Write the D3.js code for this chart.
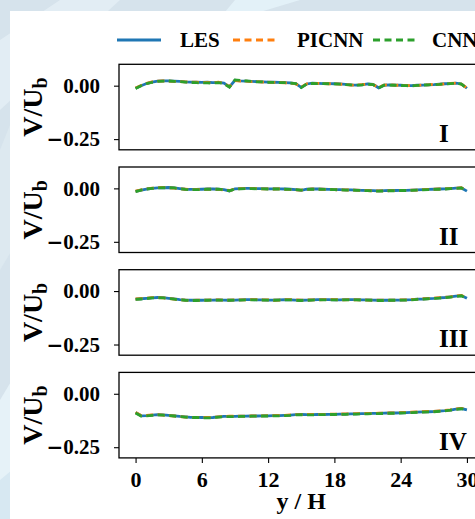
<!DOCTYPE html>
<html>
<head>
<meta charset="utf-8">
<script src="https://cdnjs.cloudflare.com/ajax/libs/d3/7.8.5/d3.min.js"></script>
<style>
  body { margin: 0; padding: 0; overflow: hidden; background: #d6e3ec; }
  svg { display: block; }
</style>
</head>
<body>
<script>
// sample positions y/H
var positions = [
  0, 0.5, 1, 1.5, 2, 2.5, 3, 3.5, 4, 4.5,
  5, 5.5, 6, 6.5, 7, 7.5, 8, 8.5, 9, 9.5,
  10, 10.5, 11, 11.5, 12, 12.5, 13, 13.5, 14, 14.5,
  15, 15.5, 16, 16.5, 17, 17.5, 18, 18.5, 19, 19.5,
  20, 20.5, 21, 21.5, 22, 22.5, 23, 23.5, 24, 24.5,
  25, 25.5, 26, 26.5, 27, 27.5, 28, 28.5, 29, 29.5,
  30
];

var seriesNames = ["LES", "PICNN", "CNN"];
var panelNames = ["I", "II", "III", "IV"];
var xTicks = [0, 6, 12, 18, 24, 30];
var yTicks = [0, -0.25];

// panel I
var les1 = [
  -0.012, 0.000, 0.010, 0.017, 0.021, 0.022, 0.022, 0.021, 0.020, 0.018,
  0.017, 0.016, 0.015, 0.016, 0.014, 0.015, 0.012, -0.006, 0.025, 0.022,
  0.021, 0.020, 0.019, 0.018, 0.017, 0.016, 0.015, 0.014, 0.013, 0.010,
  -0.008, 0.008, 0.012, 0.011, 0.010, 0.010, 0.009, 0.008, 0.006, 0.004,
  0.003, 0.004, 0.008, 0.006, -0.010, 0.002, 0.004, 0.003, 0.002, 0.000,
  0.000, 0.002, 0.003, 0.004, 0.005, 0.007, 0.009, 0.010, 0.012, 0.008,
  -0.012
];
var picnn1 = [
  -0.011, 0.001, 0.011, 0.018, 0.021, 0.022, 0.021, 0.020, 0.019, 0.018,
  0.016, 0.016, 0.014, 0.015, 0.013, 0.016, 0.011, -0.005, 0.024, 0.021,
  0.021, 0.019, 0.019, 0.017, 0.017, 0.015, 0.015, 0.013, 0.013, 0.009,
  -0.007, 0.009, 0.011, 0.011, 0.010, 0.009, 0.009, 0.007, 0.006, 0.003,
  0.003, 0.005, 0.007, 0.005, -0.009, 0.003, 0.004, 0.002, 0.002, 0.001,
  0.000, 0.001, 0.003, 0.004, 0.006, 0.006, 0.009, 0.011, 0.012, 0.007,
  -0.011
];
var cnn1 = [
  -0.013, 0.000, 0.010, 0.016, 0.020, 0.021, 0.022, 0.020, 0.019, 0.017,
  0.015, 0.014, 0.013, 0.013, 0.012, 0.014, 0.010, -0.007, 0.027, 0.024,
  0.022, 0.020, 0.018, 0.018, 0.016, 0.015, 0.014, 0.014, 0.012, 0.010,
  -0.009, 0.008, 0.011, 0.010, 0.010, 0.009, 0.008, 0.007, 0.005, 0.004,
  0.002, 0.004, 0.007, 0.005, -0.011, 0.002, 0.003, 0.002, 0.001, 0.000,
  -0.001, 0.001, 0.003, 0.004, 0.005, 0.006, 0.008, 0.010, 0.011, 0.007,
  -0.013
];

// panel II
var les2 = [
  -0.014, -0.008, -0.003, 0.000, 0.002, 0.003, 0.004, 0.002, -0.001, -0.004,
  -0.005, -0.005, -0.004, -0.003, -0.003, -0.004, -0.006, -0.012, -0.002, -0.001,
  0.000, 0.000, -0.001, -0.001, -0.002, -0.002, -0.002, -0.003, -0.004, -0.006,
  -0.009, -0.004, -0.003, -0.003, -0.004, -0.005, -0.006, -0.006, -0.007, -0.007,
  -0.008, -0.009, -0.010, -0.011, -0.012, -0.011, -0.010, -0.010, -0.009, -0.009,
  -0.008, -0.007, -0.006, -0.005, -0.004, -0.003, -0.002, -0.001, 0.001, 0.002,
  -0.013
];
var picnn2 = [
  -0.013, -0.007, -0.002, 0.001, 0.003, 0.004, 0.003, 0.001, -0.002, -0.004,
  -0.006, -0.005, -0.005, -0.004, -0.003, -0.005, -0.007, -0.010, -0.003, -0.001,
  -0.001, 0.000, -0.001, -0.002, -0.002, -0.003, -0.002, -0.004, -0.005, -0.007,
  -0.008, -0.005, -0.003, -0.004, -0.004, -0.006, -0.006, -0.007, -0.007, -0.008,
  -0.008, -0.010, -0.010, -0.012, -0.012, -0.012, -0.011, -0.010, -0.010, -0.009,
  -0.008, -0.008, -0.006, -0.005, -0.004, -0.003, -0.002, 0.000, 0.001, 0.003,
  -0.012
];
var cnn2 = [
  -0.015, -0.008, -0.003, 0.000, 0.002, 0.003, 0.003, 0.002, -0.002, -0.005,
  -0.006, -0.006, -0.005, -0.004, -0.004, -0.004, -0.007, -0.011, -0.003, -0.002,
  -0.001, -0.001, -0.002, -0.002, -0.003, -0.003, -0.003, -0.004, -0.005, -0.006,
  -0.008, -0.005, -0.004, -0.004, -0.005, -0.005, -0.006, -0.007, -0.008, -0.008,
  -0.009, -0.010, -0.011, -0.012, -0.013, -0.012, -0.011, -0.011, -0.010, -0.010,
  -0.009, -0.008, -0.007, -0.006, -0.005, -0.004, -0.003, -0.001, 0.000, 0.002,
  -0.014
];

// panel III
var les3 = [
  -0.038, -0.036, -0.034, -0.032, -0.030, -0.031, -0.034, -0.037, -0.040, -0.042,
  -0.043, -0.043, -0.043, -0.042, -0.042, -0.041, -0.042, -0.043, -0.042, -0.041,
  -0.040, -0.040, -0.041, -0.041, -0.042, -0.042, -0.041, -0.040, -0.041, -0.042,
  -0.043, -0.042, -0.041, -0.040, -0.040, -0.040, -0.041, -0.041, -0.040, -0.040,
  -0.040, -0.041, -0.041, -0.042, -0.043, -0.043, -0.043, -0.042, -0.042, -0.041,
  -0.040, -0.038, -0.037, -0.035, -0.034, -0.032, -0.030, -0.027, -0.024, -0.021,
  -0.034
];
var picnn3 = [
  -0.037, -0.035, -0.033, -0.031, -0.030, -0.032, -0.035, -0.038, -0.041, -0.042,
  -0.044, -0.043, -0.042, -0.042, -0.041, -0.041, -0.043, -0.042, -0.041, -0.041,
  -0.041, -0.040, -0.040, -0.041, -0.041, -0.043, -0.042, -0.040, -0.040, -0.041,
  -0.042, -0.042, -0.041, -0.041, -0.040, -0.039, -0.040, -0.041, -0.041, -0.040,
  -0.041, -0.041, -0.042, -0.042, -0.042, -0.043, -0.042, -0.042, -0.041, -0.041,
  -0.039, -0.038, -0.036, -0.035, -0.033, -0.031, -0.029, -0.027, -0.023, -0.020,
  -0.033
];
var cnn3 = [
  -0.039, -0.037, -0.035, -0.032, -0.031, -0.032, -0.034, -0.038, -0.041, -0.043,
  -0.044, -0.044, -0.043, -0.043, -0.042, -0.042, -0.043, -0.043, -0.042, -0.042,
  -0.041, -0.041, -0.041, -0.042, -0.042, -0.043, -0.042, -0.041, -0.041, -0.043,
  -0.044, -0.043, -0.042, -0.041, -0.041, -0.041, -0.041, -0.042, -0.041, -0.041,
  -0.041, -0.042, -0.042, -0.043, -0.044, -0.044, -0.043, -0.043, -0.042, -0.042,
  -0.041, -0.039, -0.038, -0.036, -0.034, -0.033, -0.031, -0.028, -0.025, -0.022,
  -0.035
];

// panel IV
var les4 = [
  -0.088, -0.103, -0.102, -0.100, -0.098, -0.099, -0.101, -0.103, -0.106, -0.108,
  -0.110, -0.110, -0.111, -0.112, -0.111, -0.108, -0.106, -0.106, -0.106, -0.105,
  -0.105, -0.104, -0.104, -0.103, -0.103, -0.102, -0.102, -0.101, -0.100, -0.098,
  -0.097, -0.098, -0.098, -0.097, -0.097, -0.096, -0.096, -0.095, -0.095, -0.094,
  -0.094, -0.093, -0.093, -0.092, -0.092, -0.091, -0.090, -0.090, -0.089, -0.088,
  -0.087, -0.086, -0.085, -0.084, -0.083, -0.081, -0.079, -0.076, -0.072, -0.069,
  -0.075
];
var picnn4 = [
  -0.087, -0.102, -0.101, -0.099, -0.098, -0.100, -0.102, -0.104, -0.106, -0.109,
  -0.110, -0.111, -0.111, -0.111, -0.110, -0.108, -0.107, -0.105, -0.105, -0.105,
  -0.104, -0.104, -0.103, -0.103, -0.102, -0.102, -0.101, -0.101, -0.099, -0.098,
  -0.098, -0.097, -0.097, -0.097, -0.096, -0.096, -0.095, -0.095, -0.094, -0.094,
  -0.093, -0.093, -0.092, -0.092, -0.091, -0.090, -0.090, -0.089, -0.088, -0.087,
  -0.086, -0.085, -0.084, -0.083, -0.082, -0.080, -0.078, -0.075, -0.071, -0.068,
  -0.074
];
var cnn4 = [
  -0.090, -0.104, -0.103, -0.101, -0.099, -0.100, -0.102, -0.104, -0.107, -0.109,
  -0.111, -0.111, -0.112, -0.113, -0.112, -0.109, -0.107, -0.107, -0.107, -0.106,
  -0.106, -0.105, -0.105, -0.104, -0.104, -0.103, -0.103, -0.102, -0.101, -0.099,
  -0.098, -0.099, -0.099, -0.098, -0.098, -0.097, -0.097, -0.096, -0.096, -0.095,
  -0.095, -0.094, -0.094, -0.093, -0.093, -0.092, -0.091, -0.091, -0.090, -0.089,
  -0.088, -0.087, -0.086, -0.085, -0.084, -0.082, -0.080, -0.077, -0.073, -0.070,
  -0.076
];

var panels = [
  [les1, picnn1, cnn1],
  [les2, picnn2, cnn2],
  [les3, picnn3, cnn3],
  [les4, picnn4, cnn4]
];

var colors = ["#1f77b4", "#ff7f0e", "#2ca02c"];
var dashes = [null, "7,4.5", "7,4.5"];

var W = 475, H = 519;
var font = "'Liberation Serif', 'Times New Roman', serif";

var svg = d3.select("body").append("svg")
  .attr("width", W)
  .attr("height", H);

// backdrop (page behind the figure)
svg.append("rect").attr("width", W).attr("height", H).attr("fill", "#d6e3ec");
svg.append("path").attr("d", "M0,40 L60,0 L120,0 L0,110 Z").attr("fill", "#e2edf4");
svg.append("path").attr("d", "M235,0 L300,0 L260,12 L225,12 Z").attr("fill", "#e3f1f8");
svg.append("path").attr("d", "M0,150 L12,120 L12,250 L0,270 Z").attr("fill", "#dde9f0");
svg.append("path").attr("d", "M0,400 L12,380 L12,519 L0,519 Z").attr("fill", "#e6f2f8");
svg.append("path").attr("d", "M0,480 L12,470 L12,519 L0,519 Z").attr("fill", "#d7e8f2");

// white figure area
svg.append("rect")
  .attr("x", 10).attr("y", 11)
  .attr("width", W - 10).attr("height", H - 11)
  .attr("fill", "#ffffff");

var left = 119, right = 483.5;
var panelTop0 = 64.3, panelH = 85.5, panelStep = 102.7;

var x = d3.scaleLinear().domain([-1.5, 31.5]).range([left, right]);

// wide minus like the original figure
function wideMinus(sel) {
  sel.each(function() {
    var t = d3.select(this);
    var s = t.text();
    if (s.charAt(0) === "\u2212") {
      t.text("");
      t.append("tspan")
        .attr("font-family", "'DejaVu Sans', sans-serif")
        .attr("font-size", 20)
        .text("\u2212");
      t.append("tspan").text(s.slice(1));
    }
  });
}

panels.forEach(function(series, p) {
  var top = panelTop0 + p * panelStep;
  var y = d3.scaleLinear().domain([-0.3, 0.1]).range([top + panelH, top]);

  var g = svg.append("g");

  var line = d3.line()
    .x(function(d, i) { return x(positions[i]); })
    .y(function(d) { return y(d); });

  series.forEach(function(vals, s) {
    g.append("path")
      .datum(vals)
      .attr("d", line)
      .attr("fill", "none")
      .attr("stroke", colors[s])
      .attr("stroke-width", 2.8)
      .attr("stroke-dasharray", dashes[s]);
  });

  // frame
  g.append("rect")
    .attr("x", left).attr("y", top)
    .attr("width", right - left).attr("height", panelH)
    .attr("fill", "none")
    .attr("stroke", "#000")
    .attr("stroke-width", 1.3);

  // y axis
  var yAxis = d3.axisLeft(y)
    .tickValues(yTicks)
    .tickFormat(d3.format(".2f"))
    .tickSize(5)
    .tickPadding(14);
  var ya = g.append("g").attr("transform", "translate(" + left + ",0)").call(yAxis);
  ya.select(".domain").remove();
  ya.selectAll("line").attr("stroke", "#000").attr("stroke-width", 1.1);
  ya.selectAll("text")
    .attr("font-family", font)
    .attr("font-weight", "bold")
    .attr("font-size", 21)
    .attr("fill", "#000")
    .call(wideMinus);

  // y label
  var lab = g.append("text")
    .attr("transform", "translate(42," + (top + panelH / 2) + ") rotate(-90)")
    .attr("text-anchor", "middle")
    .attr("font-family", font)
    .attr("font-weight", "bold")
    .attr("font-size", 28)
    .attr("fill", "#000");
  lab.append("tspan").text("V/U");
  lab.append("tspan").attr("baseline-shift", "-25%").attr("font-size", 20).text("b");

  // panel name
  g.append("text")
    .attr("x", 439)
    .attr("y", top + panelH - 8)
    .attr("font-family", font)
    .attr("font-weight", "bold")
    .attr("font-size", 25)
    .attr("fill", "#000")
    .text(panelNames[p]);

  // x axis only on the last panel
  if (p === panels.length - 1) {
    var xAxis = d3.axisBottom(x)
      .tickValues(xTicks)
      .tickFormat(d3.format("d"))
      .tickSize(5)
      .tickPadding(8);
    var xa = g.append("g").attr("transform", "translate(0," + (top + panelH) + ")").call(xAxis);
    xa.select(".domain").remove();
    xa.selectAll("line").attr("stroke", "#000").attr("stroke-width", 1.1);
    xa.selectAll("text")
      .attr("font-family", font)
      .attr("font-weight", "bold")
      .attr("font-size", 22)
      .attr("fill", "#000");

    g.append("text")
      .attr("x", (left + right) / 2)
      .attr("y", 509)
      .attr("text-anchor", "middle")
      .attr("font-family", font)
      .attr("font-weight", "bold")
      .attr("font-size", 24)
      .attr("fill", "#000")
      .text("y / H");
  }
});

// legend
var legendX = [117, 233, 373];
var textX = [180, 297, 432];
var legend = svg.append("g");
seriesNames.forEach(function(name, s) {
  legend.append("line")
    .attr("x1", legendX[s]).attr("x2", legendX[s] + 44)
    .attr("y1", 40).attr("y2", 40)
    .attr("stroke", colors[s])
    .attr("stroke-width", 2.8)
    .attr("stroke-dasharray", dashes[s]);
  legend.append("text")
    .attr("x", textX[s])
    .attr("y", 47)
    .attr("font-family", font)
    .attr("font-weight", "bold")
    .attr("font-size", 21)
    .attr("fill", "#000")
    .text(name);
});
</script>
</body>
</html>
